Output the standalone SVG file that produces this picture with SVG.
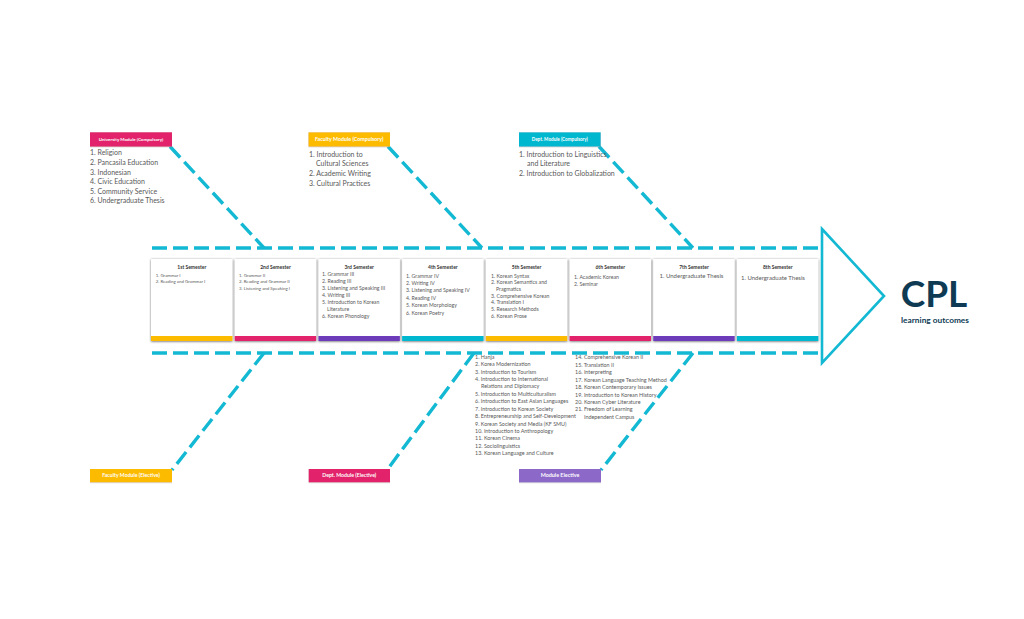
<svg xmlns="http://www.w3.org/2000/svg" width="1024" height="619" viewBox="0 0 1024 619">
<defs>
<filter id="sh" x="-10%" y="-10%" width="120%" height="120%">
<feDropShadow dx="0" dy="0.6" stdDeviation="0.9" flood-color="#444" flood-opacity="0.8"/>
</filter>
<filter id="sh2" x="-10%" y="-20%" width="120%" height="140%">
<feDropShadow dx="0" dy="0.4" stdDeviation="0.4" flood-color="#888" flood-opacity="0.6"/>
</filter>
<style>
text{font-family:Lato,"Open Sans","Liberation Sans",sans-serif}
.dash{fill:none;stroke:#13B8D3;stroke-width:3.4;stroke-dasharray:15 6}
.box{fill:#fff;filter:url(#sh)}
.lbl{filter:url(#sh2)}
.lt{fill:#fff;font-weight:700;text-anchor:middle}
.list{fill:#595959;font-size:7px}
.ttl{fill:#333;font-size:5px;font-weight:700;text-anchor:middle}
.it{fill:#595959}
.bl{fill:#595959;font-size:5.4px}
.y{fill:#FDBB00}.p{fill:#E2226A}.v{fill:#6C3CBA}.c{fill:#00B7D0}
</style>
</defs>
<rect width="1024" height="619" fill="#fff"/>

<g id="connectors">
<polygon points="822,229 884,296 822,363" fill="#fff" stroke="#13B8D3" stroke-width="2.6" stroke-linejoin="miter"/>
<line class="dash" x1="152" y1="248" x2="822" y2="248"/>
<line class="dash" x1="152" y1="353" x2="822" y2="353"/>
<line class="dash" x1="170" y1="146.5" x2="264" y2="248"/>
<line class="dash" x1="388" y1="146.5" x2="482" y2="248"/>
<line class="dash" x1="599" y1="146.5" x2="693" y2="248"/>
<line class="dash" x1="264" y1="353" x2="172" y2="470"/>
<line class="dash" x1="474" y1="353" x2="387" y2="470"/>
<line class="dash" x1="693" y1="353" x2="601" y2="470"/>
</g>

<g id="univ-compulsory">
<rect class="lbl p" x="90" y="132.3" width="82" height="14.3"/>
<text class="lt" x="131" y="140.6" font-size="4.5">University Module (Compulsory)</text>
<text class="list" x="90" y="155.3">1. Religion</text>
<text class="list" x="90" y="164.9">2. Pancasila Education</text>
<text class="list" x="90" y="174.5">3. Indonesian</text>
<text class="list" x="90" y="184.1">4. Civic Education</text>
<text class="list" x="90" y="193.7">5. Community Service</text>
<text class="list" x="90" y="203.3">6. Undergraduate Thesis</text>
</g>

<g id="faculty-compulsory">
<rect class="lbl y" x="308.5" y="132.3" width="81.5" height="14.3"/>
<text class="lt" x="349.2" y="140.8" font-size="5.3">Faculty Module (Compulsory)</text>
<text class="list" x="309" y="156.8">1. Introduction to</text>
<text class="list" x="316" y="166.4">Cultural Sciences</text>
<text class="list" x="309" y="176">2. Academic Writing</text>
<text class="list" x="309" y="185.6">3. Cultural Practices</text>
</g>

<g id="dept-compulsory">
<rect class="lbl c" x="519" y="132.3" width="81.7" height="14.3"/>
<text class="lt" x="559.8" y="140.6" font-size="4.6">Dept. Module (Compulsory)</text>
<text class="list" x="519" y="156.8">1. Introduction to Linguistics</text>
<text class="list" x="527" y="166.4">and Literature</text>
<text class="list" x="519" y="176">2. Introduction to Globalization</text>
</g>

<g id="sem1">
<rect class="box" x="151" y="259" width="81.5" height="82"/>
<rect class="y" x="151" y="336" width="81.5" height="5"/>
<text class="ttl" x="191.8" y="268.5">1st Semester</text>
<text class="it" font-size="4.4" x="155.7" y="276.5">1. Grammar I</text>
<text class="it" font-size="4.4" x="155.7" y="283.2">2. Reading and Grammar I</text>
</g>

<g id="sem2">
<rect class="box" x="234.7" y="259" width="81.5" height="82"/>
<rect class="p" x="234.7" y="336" width="81.5" height="5"/>
<text class="ttl" x="275.5" y="268.5">2nd Semester</text>
<text class="it" font-size="4.4" x="239" y="276.5">1. Grammar II</text>
<text class="it" font-size="4.4" x="239" y="283.2">2. Reading and Grammar II</text>
<text class="it" font-size="4.4" x="239" y="289.9">3. Listening and Speaking I</text>
</g>

<g id="sem3">
<rect class="box" x="318.4" y="259" width="81.5" height="82"/>
<rect class="v" x="318.4" y="336" width="81.5" height="5"/>
<text class="ttl" x="359.2" y="268.5">3rd Semester</text>
<text class="it" font-size="5.2" x="322" y="276.2">1. Grammar III</text>
<text class="it" font-size="5.2" x="322" y="283.2">2. Reading III</text>
<text class="it" font-size="5.2" x="322" y="290.2">3. Listening and Speaking III</text>
<text class="it" font-size="5.2" x="322" y="297.2">4. Writing III</text>
<text class="it" font-size="5.2" x="322" y="304.2">5. Introduction to Korean</text>
<text class="it" font-size="5.2" x="327" y="311.2">Literature</text>
<text class="it" font-size="5.2" x="322" y="318.2">6. Korean Phonology</text>
</g>

<g id="sem4">
<rect class="box" x="402.1" y="259" width="81.5" height="82"/>
<rect class="c" x="402.1" y="336" width="81.5" height="5"/>
<text class="ttl" x="442.9" y="268.5">4th Semester</text>
<text class="it" font-size="5.2" x="406" y="277.5">1. Grammar IV</text>
<text class="it" font-size="5.2" x="406" y="284.9">2. Writing IV</text>
<text class="it" font-size="5.2" x="406" y="292.3">3. Listening and Speaking IV</text>
<text class="it" font-size="5.2" x="406" y="299.7">4. Reading IV</text>
<text class="it" font-size="5.2" x="406" y="307.1">5. Korean Morphology</text>
<text class="it" font-size="5.2" x="406" y="314.5">6. Korean Poetry</text>
</g>

<g id="sem5">
<rect class="box" x="485.8" y="259" width="81.5" height="82"/>
<rect class="y" x="485.8" y="336" width="81.5" height="5"/>
<text class="ttl" x="526.6" y="269.3">5th Semester</text>
<text class="it" font-size="5.2" x="491" y="277.5">1. Korean Syntax</text>
<text class="it" font-size="5.2" x="491" y="284.2">2. Korean Semantics and</text>
<text class="it" font-size="5.2" x="496" y="290.9">Pragmatics</text>
<text class="it" font-size="5.2" x="491" y="297.6">3. Comprehensive Korean</text>
<text class="it" font-size="5.2" x="491" y="304.3">4. Translation I</text>
<text class="it" font-size="5.2" x="491" y="311">5. Research Methods</text>
<text class="it" font-size="5.2" x="491" y="317.7">6. Korean Prose</text>
</g>

<g id="sem6">
<rect class="box" x="569.5" y="259" width="81.5" height="82"/>
<rect class="p" x="569.5" y="336" width="81.5" height="5"/>
<text class="ttl" x="610.3" y="269.3">6th Semester</text>
<text class="it" font-size="5.2" x="574" y="278.8">1. Academic Korean</text>
<text class="it" font-size="5.2" x="574" y="285.5">2. Seminar</text>
</g>

<g id="sem7">
<rect class="box" x="653.2" y="259" width="81.5" height="82"/>
<rect class="v" x="653.2" y="336" width="81.5" height="5"/>
<text class="ttl" x="694" y="269">7th Semester</text>
<text class="it" font-size="6" x="659.5" y="278">1. Undergraduate Thesis</text>
</g>

<g id="sem8">
<rect class="box" x="736.9" y="259" width="81.5" height="82"/>
<rect class="c" x="736.9" y="336" width="81.5" height="5"/>
<text class="ttl" x="777.7" y="269">8th Semester</text>
<text class="it" font-size="6" x="741" y="279.7">1. Undergraduate Thesis</text>
</g>

<g id="faculty-elective">
<rect class="lbl y" x="90" y="469" width="82" height="13.3"/>
<text class="lt" x="131" y="477.4" font-size="5.2">Faculty Module (Elective)</text>
</g>

<g id="dept-elective">
<rect class="lbl p" x="308.7" y="469" width="81.3" height="13.3"/>
<text class="lt" x="349.3" y="477.4" font-size="5.2">Dept. Module (Elective)</text>
</g>

<g id="module-elective">
<rect class="lbl" fill="#8C68C9" x="519" y="469" width="82" height="13.3"/>
<text class="lt" x="560" y="477.4" font-size="5.4">Module Elective</text>
<text class="bl" x="475" y="358.7">1. Hanja</text>
<text class="bl" x="475" y="366.1">2. Korea Modernization</text>
<text class="bl" x="475" y="373.6">3. Introduction to Tourism</text>
<text class="bl" x="475" y="381">4. Introduction to International</text>
<text class="bl" x="481" y="388.4">Relations and Diplomacy</text>
<text class="bl" x="475" y="395.9">5. Introduction to Multiculturalism</text>
<text class="bl" x="475" y="403.3">6. Introduction to East Asian Languages</text>
<text class="bl" x="475" y="410.7">7. Introduction to Korean Society</text>
<text class="bl" x="475" y="418.1">8. Entrepreneurship and Self-Development</text>
<text class="bl" x="475" y="425.6">9. Korean Society and Media (KF SMU)</text>
<text class="bl" x="475" y="433">10. Introduction to Anthropology</text>
<text class="bl" x="475" y="440.4">11. Korean Cinema</text>
<text class="bl" x="475" y="447.9">12. Sociolinguistics</text>
<text class="bl" x="475" y="455.3">13. Korean Language and Culture</text>
<text class="bl" x="575" y="359.3">14. Comprehensive Korean II</text>
<text class="bl" x="575" y="366.7">15. Translation II</text>
<text class="bl" x="575" y="374.2">16. Interpreting</text>
<text class="bl" x="575" y="381.6">17. Korean Language Teaching Method</text>
<text class="bl" x="575" y="389">18. Korean Contemporary Issues</text>
<text class="bl" x="575" y="396.5">19. Introduction to Korean History</text>
<text class="bl" x="575" y="403.9">20. Korean Cyber Literature</text>
<text class="bl" x="575" y="411.3">21. Freedom of Learning</text>
<text class="bl" x="584" y="418.7">Independent Campus</text>
</g>

<g id="cpl">
<text x="934" y="306.5" font-size="37" font-weight="700" fill="#0E3B53" text-anchor="middle">CPL</text>
<text x="935" y="322.5" font-size="8.3" font-weight="700" fill="#0E3B53" text-anchor="middle">learning outcomes</text>
</g>
</svg>
